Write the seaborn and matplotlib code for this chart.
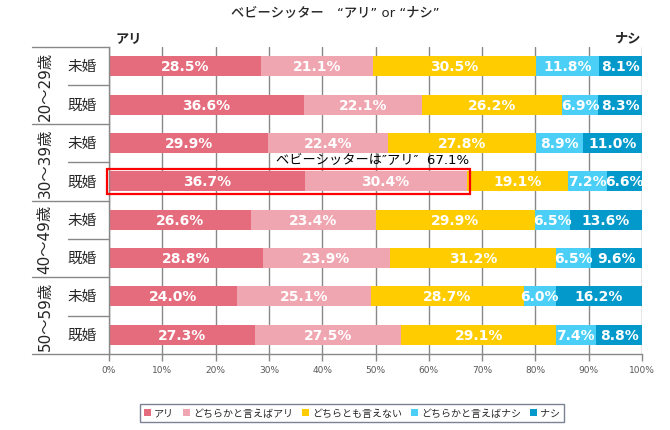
import numpy as np
import pandas as pd
import matplotlib
matplotlib.use("Agg")
import matplotlib.pyplot as plt
import seaborn as sns
from matplotlib.patches import Patch, Rectangle

ages = ["20～29歳", "30～39歳", "40～49歳", "50～59歳"]
status = ["未婚", "既婚"]
answers = ["アリ", "どちらかと言えばアリ", "どちらとも言えない", "どちらかと言えばナシ", "ナシ"]
colors = ["#E56C7D", "#F0A6B0", "#FFCC00", "#4BCFF6", "#0399CA"]

ari = [28.5, 36.6, 29.9, 36.7, 26.6, 28.8, 24.0, 27.3]
ari_maybe = [21.1, 22.1, 22.4, 30.4, 23.4, 23.9, 25.1, 27.5]
neutral = [30.5, 26.2, 27.8, 19.1, 29.9, 31.2, 28.7, 29.1]
nashi_maybe = [11.8, 6.9, 8.9, 7.2, 6.5, 6.5, 6.0, 7.4]
nashi = [8.1, 8.3, 11.0, 6.6, 13.6, 9.6, 16.2, 8.8]

highlight_row = 3  # 30～39歳 既婚

sns.set_theme(style="white")
plt.rcParams["font.family"] = ["Noto Sans CJK JP", "DejaVu Sans"]
latin_first = ["DejaVu Sans", "Noto Sans CJK JP"]

rows = [f"{a} {s}" for a in ages for s in status]
vals = np.array([ari, ari_maybe, neutral, nashi_maybe, nashi])
cum = vals.cumsum(axis=0)
df = pd.DataFrame({"row": rows})
for i, name in enumerate(answers):
    df[name] = cum[i]

fig = plt.figure(figsize=(6.7, 4.31), dpi=100)
ax = fig.add_axes([109 / 670, 1 - 355 / 431, 533 / 670, 307 / 431])

# stacked bars: draw cumulative totals from the right-most series down
for i in range(len(answers) - 1, -1, -1):
    sns.barplot(data=df, x=answers[i], y="row", color=colors[i], orient="h",
                width=0.52, saturation=1, linewidth=0, ax=ax, zorder=2)

# segment labels
for r in range(len(rows)):
    for i in range(len(answers)):
        left = cum[i, r] - vals[i, r]
        ax.text(left + vals[i, r] / 2, r, f"{vals[i, r]:.1f}%", color="white",
                ha="center", va="center", fontsize=10, fontweight="bold",
                family="DejaVu Sans", zorder=4)

ax.set_xlim(0, 100)
ax.set_ylim(len(rows) - 0.5, -0.5)
ax.set_xticks(np.arange(0, 101, 10))
ax.set_xticklabels([f"{t}%" for t in range(0, 101, 10)], fontsize=6.5, color="#595959",
                   family="DejaVu Sans")
ax.tick_params(axis="x", length=5, width=1, color="#888888", pad=3, bottom=True)
ax.set_yticks([])
ax.set_xlabel("")
ax.set_ylabel("")
ax.xaxis.grid(True, color="#888888", linewidth=1, zorder=0)
ax.set_axisbelow(True)
for side in ["top", "right"]:
    ax.spines[side].set_visible(False)
for side in ["left", "bottom"]:
    ax.spines[side].set_color("#888888")
    ax.spines[side].set_linewidth(1)

# table on the left
tr = ax.get_yaxis_transform()
for b in range(len(rows) + 1):
    x0 = -77 / 533 if b % 2 == 0 else -41 / 533
    ax.plot([x0, 0], [b - 0.5, b - 0.5], transform=tr, color="#888888",
            linewidth=1, clip_on=False)
for g, a in enumerate(ages):
    ax.text(-64 / 533, 2 * g + 0.5, a, transform=tr, rotation=90, ha="center",
            va="center", fontsize=11, family=latin_first)
    for k, s in enumerate(status):
        ax.text(-27 / 533, 2 * g + k, s, transform=tr, ha="center", va="center",
                fontsize=10.5)

# highlight box
hl_total = ari[highlight_row] + ari_maybe[highlight_row]
ax.add_patch(Rectangle((-0.4, highlight_row - 0.33), hl_total + 1.0, 0.66, fill=False,
                       edgecolor="#FF0000", linewidth=1.6, clip_on=False, zorder=5))
ax.text(hl_total + 0.4, highlight_row - 0.4, f"ベビーシッターは\u2033アリ\u2033  {hl_total:.1f}%",
        ha="right", va="bottom", fontsize=9.5, color="black", zorder=5,
        family=latin_first)

fig.text(0.5, 1 - 13 / 431, "ベビーシッター　“アリ” or “ナシ”", ha="center", va="center",
         fontsize=9.5, fontweight="medium", family=latin_first)
fig.text(116 / 670, 1 - 38 / 431, "アリ", ha="left", va="center", fontsize=9.5,
         fontweight="bold")
fig.text(641 / 670, 1 - 38 / 431, "ナシ", ha="right", va="center", fontsize=9.5,
         fontweight="bold")

handles = [Patch(facecolor=c, edgecolor="none") for c in colors]
leg = fig.legend(handles, answers, loc="center", bbox_to_anchor=(352 / 670, 1 - 414 / 431),
                 ncol=5, fontsize=7.2, frameon=True, fancybox=False, handlelength=0.7,
                 handleheight=0.7, handletextpad=0.3, columnspacing=0.9,
                 borderpad=0.4)
leg.get_frame().set_edgecolor("#5A6378")
leg.get_frame().set_linewidth(1)

fig.savefig("out.png", dpi=100)
